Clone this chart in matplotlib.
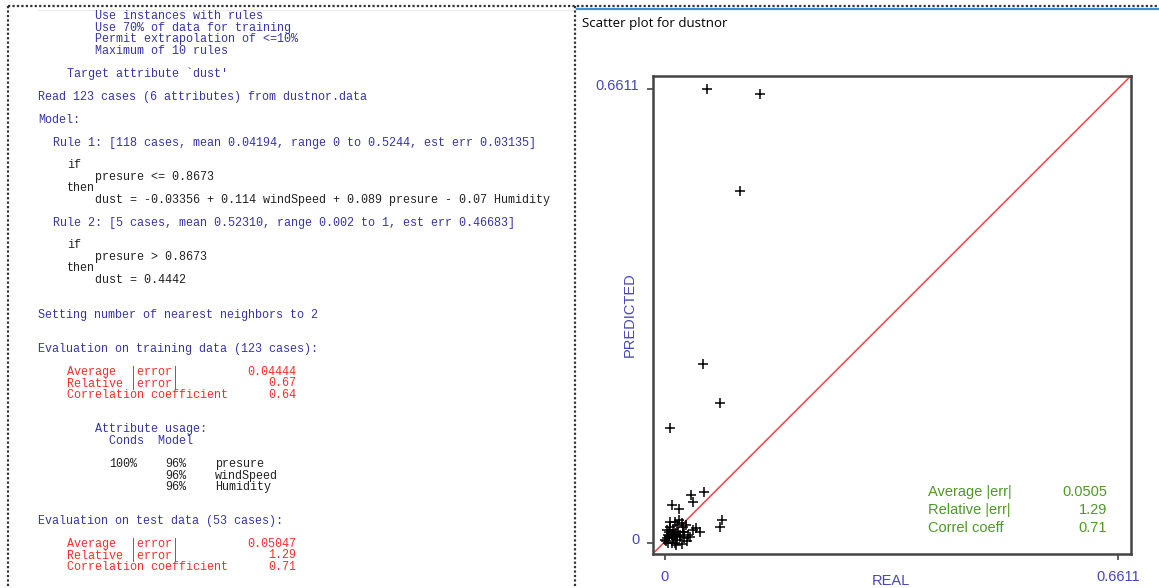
import matplotlib
matplotlib.use("Agg")
import matplotlib.pyplot as plt
from matplotlib.lines import Line2D
from matplotlib.transforms import ScaledTranslation

W, H = 1159, 588

# test cases: real vs predicted dust
real_vals = [0.0606, 0.1388, 0.1095, 0.0556, 0.0801, 0.0067, 0.0568, 0.0382, 0.0414,
             0.0099, 0.0209, 0.0839, 0.0801, 0.0452, 0.0508, 0.0372, 0.0263, 0.0209,
             0.0244, 0.0413, 0.0025, 0.0073, 0.0121, 0.0048, 0.0098, 0.0146, 0.0000,
             0.0121, 0.0171, 0.0098, 0.0146, 0.0219, 0.0161, 0.0219, 0.0267, 0.0058,
             0.0080, 0.0110, 0.0320, 0.0040, 0.0300, 0.0190, 0.0250, 0.0150, 0.0036,
             0.0117, 0.0175, 0.0340, 0.0066, 0.0280, 0.0182, 0.0015, 0.0284]
pred_vals = [0.6611, 0.6538, 0.5125, 0.2613, 0.2036, 0.1671, 0.0748, 0.0699, 0.0593,
             0.0554, 0.0495, 0.0331, 0.0238, 0.0223, 0.0156, 0.0092, 0.0238, 0.0335,
             0.0287, 0.0189, 0.0189, 0.0238, 0.0189, 0.0117, 0.0117, 0.0141, 0.0044,
             0.0068, 0.0044, -0.0004, 0.0000, 0.0092, -0.0029, 0.0117, 0.0160, 0.0160,
             0.0300, 0.0087, 0.0030, 0.0000, 0.0260, 0.0160, -0.0010, 0.0300, 0.0073,
             0.0131, 0.0109, 0.0120, 0.0102, 0.0070, 0.0262, 0.0029, 0.0160]
axis_max = 0.6611
tick_vals = [0, axis_max]
tick_labels = ["0", "0.6611"]

stat_names = ["Average |err|", "Relative |err|", "Correl coeff"]
stat_values = ["0.0505", "1.29", "0.71"]

train_names = ["Average  |error|", "Relative |error|", "Correlation coefficient"]
train_values = ["0.04444", "0.67", "0.64"]
test_values = ["0.05047", "1.29", "0.71"]

usage_conds = ["100%", "", ""]
usage_model = ["96%", "96%", "96%"]
usage_attrs = ["presure", "windSpeed", "Humidity"]

BLUE = "#3535a8"
BLACK = "#222222"
RED = "#ff2a2a"
GREEN = "#4c9a22"
TICKBLUE = "#4646c0"

fig = plt.figure(figsize=(W / 100, H / 100), dpi=100)
fig.patch.set_facecolor("white")


def fx(x):
    return x / W


def fy(y):
    return 1 - y / H


def put(x, y, s, color, **kw):
    kw.setdefault("family", "Liberation Mono")
    kw.setdefault("fontsize", 8.5)
    fig.text(fx(x), fy(y), s, color=color, va="center", **kw)


# ---- left panel: Cubist output log ----
log_lines = [
    (95, 16, "Use instances with rules", BLUE),
    (95, 28, "Use 70% of data for training", BLUE),
    (95, 39, "Permit extrapolation of <=10%", BLUE),
    (95, 51, "Maximum of 10 rules", BLUE),
    (67, 74, "Target attribute `dust'", BLUE),
    (38, 97, "Read 123 cases (6 attributes) from dustnor.data", BLUE),
    (38, 120, "Model:", BLUE),
    (53, 143, "Rule 1: [118 cases, mean 0.04194, range 0 to 0.5244, est err 0.03135]", BLUE),
    (67, 165, "if", BLACK),
    (95, 177, "presure <= 0.8673", BLACK),
    (67, 188, "then", BLACK),
    (95, 200, "dust = -0.03356 + 0.114 windSpeed + 0.089 presure - 0.07 Humidity", BLACK),
    (53, 223, "Rule 2: [5 cases, mean 0.52310, range 0.002 to 1, est err 0.46683]", BLUE),
    (67, 245, "if", BLACK),
    (95, 257, "presure > 0.8673", BLACK),
    (67, 268, "then", BLACK),
    (95, 280, "dust = 0.4442", BLACK),
    (38, 315, "Setting number of nearest neighbors to 2", BLUE),
    (38, 349, "Evaluation on training data (123 cases):", BLUE),
    (95, 429, "Attribute usage:", BLUE),
    (109, 441, "Conds  Model", BLUE),
    (38, 521, "Evaluation on test data (53 cases):", BLUE),
]
for x, y, s, c in log_lines:
    put(x, y, s, c)

for i, (name, v1, v2) in enumerate(zip(train_names, train_values, test_values)):
    put(67, 372 + i * 11.5, name, RED)
    put(296, 372 + i * 11.5, v1, RED, ha="right")
    put(67, 544 + i * 11.5, name, RED)
    put(296, 544 + i * 11.5, v2, RED, ha="right")

for i, (c, m, a) in enumerate(zip(usage_conds, usage_model, usage_attrs)):
    y = 464 + i * 11.7
    if c:
        put(109, y, c, BLACK)
    put(165, y, m, BLACK)
    put(215, y, a, BLACK)

# borders
dot = dict(color="#333333", lw=1.6, linestyle=(0, (1, 1)))
fig.add_artist(Line2D([fx(8), fx(W)], [fy(6), fy(6)], **dot))
fig.add_artist(Line2D([fx(8), fx(8)], [fy(6), fy(H)], **dot))
fig.add_artist(Line2D([fx(575), fx(575)], [fy(6), fy(H)], **dot))
fig.add_artist(Line2D([fx(38), fx(572)], [fy(10), fy(10)], color="#ececec", lw=1))
fig.add_artist(Line2D([fx(577), fx(W)], [fy(9), fy(9)], color="#3c8fd8", lw=1.6))

# ---- right panel: scatter plot ----
fig.text(fx(582), fy(24), "Scatter plot for dustnor", family="Open Sans",
         fontsize=9.5, color="black", va="center")

ax = fig.add_axes([fx(652.5), fy(554), (1130.7 - 652.5) / W, (554 - 76) / H])
ax.set_xlim(-0.0182, 0.6796)
ax.set_ylim(-0.0160, 0.6805)
ax.plot([0, 1], [0, 1], transform=ax.transAxes, color="#ff4040", lw=1.1, zorder=2)
ax.plot(real_vals, pred_vals, linestyle="none", marker="+", ms=7.5, mew=1.1,
        color="black", zorder=3)

for s in ax.spines.values():
    s.set_color("#444444")
    s.set_linewidth(1.8)
ax.set_xticks(tick_vals)
ax.set_xticklabels(tick_labels)
ax.set_yticks(tick_vals)
ax.set_yticklabels(tick_labels)
ax.tick_params(direction="out", length=4.5, width=1.2, color="#444444",
               labelcolor=TICKBLUE, labelsize=10.5)
ax.tick_params(axis="x", pad=7)
ax.tick_params(axis="y", pad=5)
for lab in ax.get_xticklabels() + ax.get_yticklabels():
    lab.set_family("Liberation Sans")
shift = ScaledTranslation(0, 5 / 100, fig.dpi_scale_trans)
for lab in ax.get_yticklabels():
    lab.set_transform(lab.get_transform() + shift)

fig.text(fx(630), fy(315), "PREDICTED", rotation=90, family="Liberation Sans",
         fontsize=10.5, color=TICKBLUE, ha="center", va="center")
fig.text(fx(891), fy(581), "REAL", family="Liberation Sans",
         fontsize=10.5, color=TICKBLUE, ha="center", va="center")

for i, (n, v) in enumerate(zip(stat_names, stat_values)):
    y = 492 + i * 18
    fig.text(fx(928), fy(y), n, family="Liberation Sans", fontsize=10.5,
             color=GREEN, va="center")
    fig.text(fx(1107), fy(y), v, family="Liberation Sans", fontsize=10.5,
             color=GREEN, va="center", ha="right")

fig.savefig("out.png", dpi=100)
